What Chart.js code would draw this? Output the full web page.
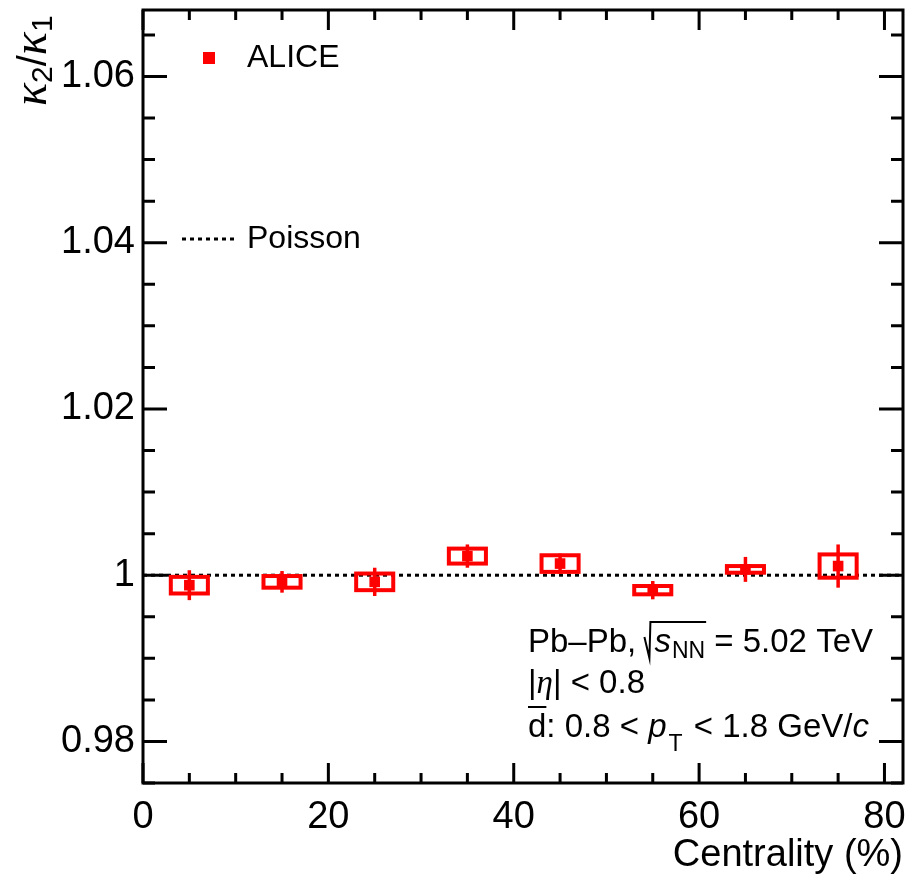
<!DOCTYPE html>
<html>
<head>
<meta charset="utf-8">
<script src="https://cdn.jsdelivr.net/npm/chart.js@4"></script>
<style>
  body { margin: 0; background: #fff; }
</style>
</head>
<body>
<canvas id="chart" width="911" height="878"></canvas>
<script>
// kappa2/kappa1 of anti-deuterons vs centrality
const centrality = [5, 15, 25, 35, 45, 55, 65, 75];
const ratio      = [0.9988, 0.9992, 0.9992, 1.0023, 1.0014, 0.9982, 1.0007, 1.0011];
const statErr    = [0.0018, 0.0013, 0.0017, 0.0014, 0.0012, 0.0011, 0.0015, 0.0026];
const systErr    = [0.0010, 0.0007, 0.0010, 0.0009, 0.0010, 0.0005, 0.0004, 0.0014];
const boxHalfWidth = 2;

const xTicks = [0, 20, 40, 60, 80];
const yTicks = [0.98, 1.00, 1.02, 1.04, 1.06];
const poissonLevel = 1;

const SANS = 'Liberation Sans, Arial, sans-serif';
const SERIF = 'Liberation Serif, Times New Roman, serif';
const RED = '#f00';

// draw a list of text pieces one after another, returns end x
function drawRuns(ctx, x, y, runs) {
  ctx.textAlign = 'left';
  ctx.textBaseline = 'alphabetic';
  for (const r of runs) {
    ctx.font = r.font;
    if (r.over) {
      const w = ctx.measureText(r.t).width;
      ctx.lineWidth = 2;
      ctx.beginPath();
      ctx.moveTo(x, y - r.over);
      ctx.lineTo(x + w, y - r.over);
      ctx.stroke();
    }
    ctx.fillText(r.t, x, y + (r.dy || 0));
    x += ctx.measureText(r.t).width + (r.gap || 0);
  }
  return x;
}

// stat error bars and syst boxes
const errorMarks = {
  id: 'errorMarks',
  afterDatasetsDraw(chart) {
    const { ctx, scales: { x, y } } = chart;
    ctx.save();
    ctx.strokeStyle = RED;
    centrality.forEach((c, i) => {
      const x0 = x.getPixelForValue(c - boxHalfWidth);
      const x1 = x.getPixelForValue(c + boxHalfWidth);
      const y0 = y.getPixelForValue(ratio[i] + systErr[i]);
      const y1 = y.getPixelForValue(ratio[i] - systErr[i]);
      ctx.lineWidth = 4;
      ctx.strokeRect(x0, y0, x1 - x0, y1 - y0);

      const px = x.getPixelForValue(c);
      ctx.lineWidth = 3.5;
      ctx.beginPath();
      ctx.moveTo(px, y.getPixelForValue(ratio[i] + statErr[i]));
      ctx.lineTo(px, y.getPixelForValue(ratio[i] - statErr[i]));
      ctx.stroke();
    });
    ctx.restore();
  }
};

// frame with inward ticks on all four sides, legend and labels
const decorations = {
  id: 'decorations',
  afterDraw(chart) {
    const { ctx, chartArea: a, scales: { x, y } } = chart;
    ctx.save();
    ctx.strokeStyle = '#000';
    ctx.fillStyle = '#000';
    ctx.lineWidth = 3;
    ctx.strokeRect(a.left, a.top, a.right - a.left, a.bottom - a.top);

    ctx.beginPath();
    for (let v = 0; v <= x.max; v += 5) {
      const px = x.getPixelForValue(v);
      const len = v % 20 === 0 ? 20 : 10;
      ctx.moveTo(px, a.bottom); ctx.lineTo(px, a.bottom - len);
      ctx.moveTo(px, a.top); ctx.lineTo(px, a.top + len);
    }
    for (let k = 195; k <= 213; k++) {
      const py = y.getPixelForValue(k / 200);
      const len = k % 4 === 0 ? 24 : 12;
      ctx.moveTo(a.left, py); ctx.lineTo(a.left + len, py);
      ctx.moveTo(a.right, py); ctx.lineTo(a.right - len, py);
    }
    ctx.stroke();

    // legend
    ctx.fillStyle = RED;
    ctx.fillRect(203, 52, 12, 12);
    ctx.fillStyle = '#000';
    ctx.font = '32px ' + SANS;
    ctx.textBaseline = 'alphabetic';
    ctx.fillText('ALICE', 247, 67);
    ctx.setLineDash([4, 4]);
    ctx.beginPath();
    ctx.moveTo(182, 239); ctx.lineTo(236, 239);
    ctx.stroke();
    ctx.setLineDash([]);
    ctx.fillText('Poisson', 247, 248);

    // y axis title
    ctx.save();
    ctx.translate(46, 106);
    ctx.rotate(-Math.PI / 2);
    drawRuns(ctx, 0, 0, [
      { t: 'κ', font: 'italic 48px ' + SERIF },
      { t: '2', font: '30px ' + SANS, dy: 6 },
      { t: '/', font: '40px ' + SANS },
      { t: 'κ', font: 'italic 48px ' + SERIF },
      { t: '1', font: '30px ' + SANS, dy: 6 }
    ]);
    ctx.restore();

    // collision system and cuts
    const f = '33px ' + SANS, fi = 'italic 33px ' + SANS, fs = '23px ' + SANS;
    let xr = drawRuns(ctx, 528, 652, [{ t: 'Pb–Pb, ', font: f }]);
    const xe = drawRuns(ctx, xr + 9, 652, [
      { t: 's', font: fi, gap: 1 },
      { t: 'NN', font: fs, dy: 6 }
    ]);
    ctx.lineWidth = 2;
    ctx.beginPath();
    ctx.moveTo(xr - 1, 637);
    ctx.lineTo(xr + 4, 658);
    ctx.lineTo(xr + 5, 622);
    ctx.lineTo(xe + 1, 622);
    ctx.stroke();
    drawRuns(ctx, xe, 652, [{ t: ' = 5.02 TeV', font: f }]);

    drawRuns(ctx, 528, 693, [
      { t: '|', font: f },
      { t: 'η', font: 'italic 33px ' + SERIF },
      { t: '| < 0.8', font: f }
    ]);

    drawRuns(ctx, 528, 737, [
      { t: 'd', font: f, over: 30 },
      { t: ': 0.8 < ', font: f },
      { t: 'p', font: fi, gap: 2 },
      { t: 'T', font: fs, dy: 14, gap: 2 },
      { t: ' < 1.8 GeV/', font: f },
      { t: 'c', font: fi }
    ]);
    ctx.restore();
  }
};

new Chart(document.getElementById('chart'), {
  type: 'scatter',
  data: {
    datasets: [
      {
        label: 'ALICE',
        data: centrality.map((c, i) => ({ x: c, y: ratio[i] })),
        pointStyle: 'rect',
        pointRadius: 7.5,
        backgroundColor: RED,
        borderWidth: 0
      },
      {
        label: 'Poisson',
        data: [{ x: 0, y: poissonLevel }, { x: 82, y: poissonLevel }],
        showLine: true,
        borderColor: '#000',
        borderWidth: 3,
        borderDash: [4, 4],
        pointRadius: 0
      }
    ]
  },
  options: {
    responsive: false,
    animation: false,
    devicePixelRatio: 1,
    layout: { padding: { top: 10, right: 8, left: 0, bottom: 0 } },
    plugins: { legend: { display: false }, tooltip: { enabled: false } },
    scales: {
      x: {
        type: 'linear',
        min: 0,
        max: 82,
        grid: { display: false, drawTicks: false },
        border: { display: false },
        afterBuildTicks: s => { s.ticks = xTicks.map(v => ({ value: v })); },
        afterFit: s => { s.height = 95; s.paddingLeft = 0; s.paddingRight = 0; },
        ticks: { font: { family: SANS, size: 38 }, color: '#000', padding: 12, maxRotation: 0 },
        title: {
          display: true,
          text: 'Centrality (%)',
          align: 'end',
          color: '#000',
          font: { family: SANS, size: 38, lineHeight: 1.2 },
          padding: 0
        }
      },
      y: {
        min: 0.975,
        max: 1.068,
        grid: { display: false, drawTicks: false },
        border: { display: false },
        afterBuildTicks: s => { s.ticks = yTicks.map(v => ({ value: v })); },
        afterFit: s => { s.width = 143; s.paddingTop = 0; s.paddingBottom = 0; },
        ticks: {
          font: { family: SANS, size: 38 },
          color: '#000',
          padding: 8,
          callback: v => String(+v.toFixed(2))
        }
      }
    }
  },
  plugins: [errorMarks, decorations]
});
</script>
</body>
</html>
